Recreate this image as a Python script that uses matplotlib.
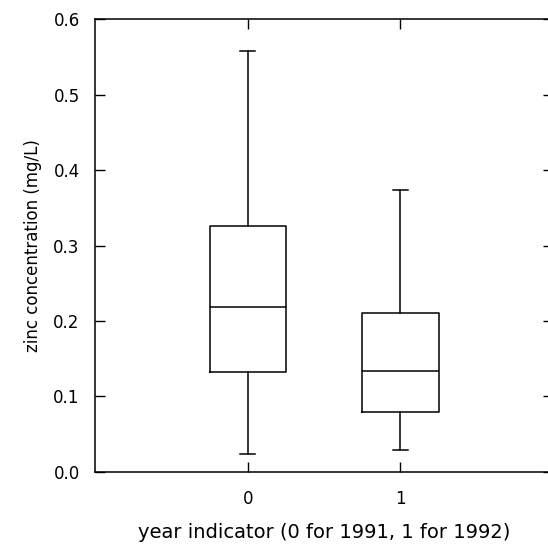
import matplotlib.pyplot as plt

# box statistics (zinc, mg/L)
years = [0, 1]
q1 = [0.132, 0.079]
med = [0.218, 0.134]
q3 = [0.326, 0.210]
whis_lo = [0.024, 0.029]
whis_hi = [0.557, 0.373]

plt.rcParams['font.family'] = ['DejaVu Sans']
plt.rcParams['font.size'] = 12

fig = plt.figure(figsize=(5.48, 5.48), dpi=100)
# right edge sits just past the image border, as in the scan
ax = fig.add_axes([0.1734, 0.1387, 0.836, 0.8266])

stats = []
for i in range(len(years)):
    stats.append({'med': med[i], 'q1': q1[i], 'q3': q3[i],
                  'whislo': whis_lo[i], 'whishi': whis_hi[i], 'fliers': []})

lw = 1.1
ax.bxp(stats, positions=years, widths=0.5, capwidths=0.1, showfliers=False,
       boxprops=dict(color='black', linewidth=lw),
       medianprops=dict(color='black', linewidth=lw),
       whiskerprops=dict(color='black', linewidth=lw),
       capprops=dict(color='black', linewidth=lw))

ax.set_xlim(-1, 2)
ax.set_ylim(0, 0.6)
ax.set_xticks(years)
ax.set_xticklabels([str(y) for y in years])
ax.set_yticks([0.0, 0.1, 0.2, 0.3, 0.4, 0.5, 0.6])
ax.set_yticklabels(['0.0', '0.1', '0.2', '0.3', '0.4', '0.5', '0.6'])
ax.tick_params(direction='in', length=7, width=1, top=True, right=True,
               colors='black')
ax.tick_params(axis='y', pad=11)
ax.tick_params(axis='x', pad=13)
for s in ax.spines.values():
    s.set_linewidth(1.1)

fig.text(0.1734 + 0.836 * (1 / 3 + 0.5 / 3), 0.018,
         'year indicator (0 for 1991, 1 for 1992)',
         ha='center', va='baseline', fontsize=14)
ax.set_ylabel('zinc concentration (mg/L)', labelpad=8)

fig.savefig('out.png', dpi=100)
